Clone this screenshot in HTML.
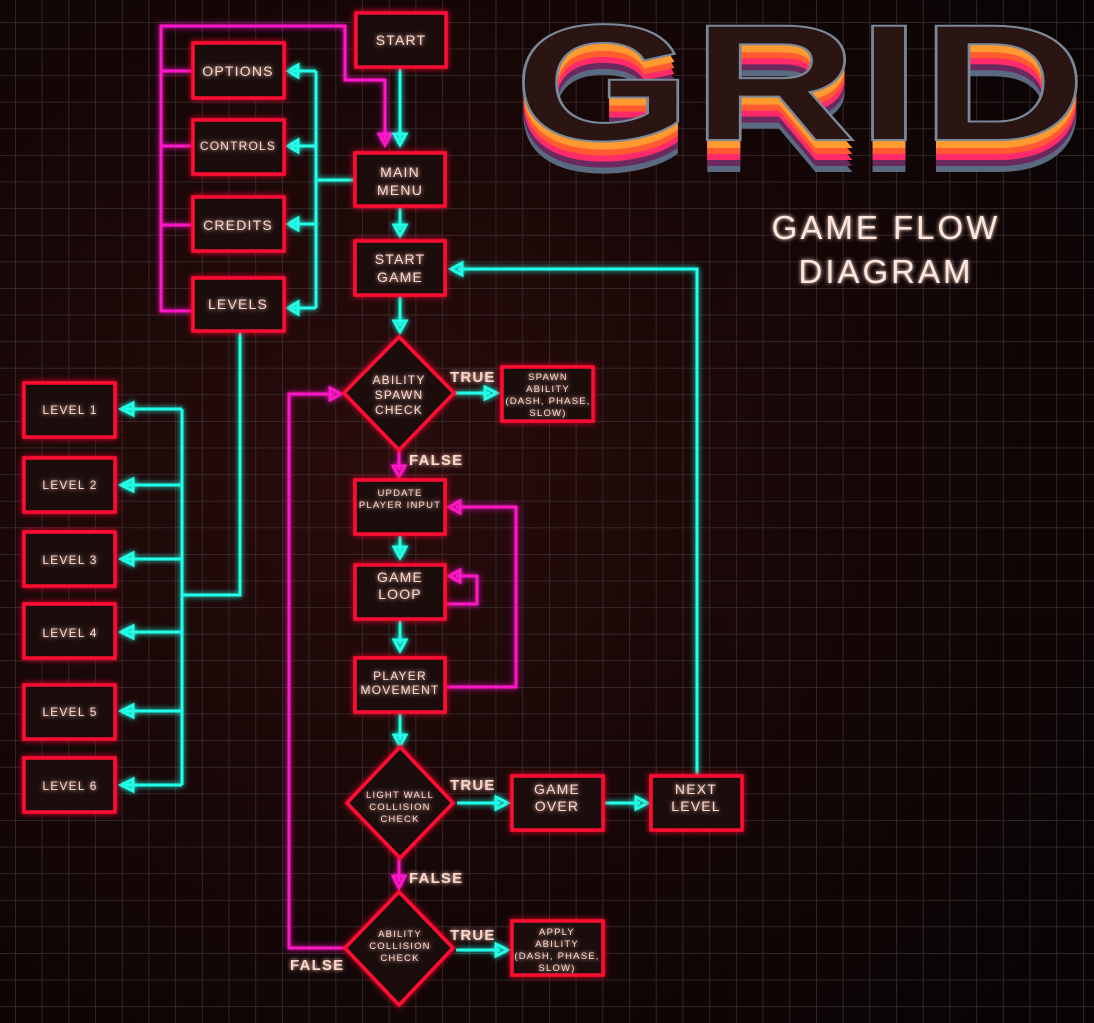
<!DOCTYPE html>
<html><head><meta charset="utf-8"><style>
html,body{margin:0;padding:0;background:#0a0505;}
svg{display:block}
text{font-family:"Liberation Sans",sans-serif;}
</style></head><body>
<svg width="1094" height="1023" viewBox="0 0 1094 1023" xmlns="http://www.w3.org/2000/svg">
<defs>
<pattern id="g" x="15" y="22" width="26.7" height="26.6" patternUnits="userSpaceOnUse">
<path d="M0 0H26.7M0 0V26.6" stroke="#3a3030" stroke-width="1.5" fill="none"/>
</pattern>
<radialGradient id="vg" cx="0.35" cy="0.45" r="0.8">
<stop offset="0" stop-color="#2a0c0c"/><stop offset="0.6" stop-color="#140606"/><stop offset="1" stop-color="#080404"/>
</radialGradient>
<filter id="glow" x="-30%" y="-30%" width="160%" height="160%"><feGaussianBlur stdDeviation="3" result="b"/><feMerge><feMergeNode in="b"/><feMergeNode in="SourceGraphic"/></feMerge></filter>
<filter id="tg" x="-20%" y="-50%" width="140%" height="200%"><feGaussianBlur stdDeviation="2" result="b"/><feMerge><feMergeNode in="b"/><feMergeNode in="SourceGraphic"/></feMerge></filter>
</defs>
<rect width="1094" height="1023" fill="url(#vg)"/>
<rect width="1094" height="1023" fill="url(#g)"/>

<!-- Title -->
<g font-weight="bold" font-size="166" text-anchor="start">
<text x="514" y="172" textLength="572" lengthAdjust="spacingAndGlyphs" fill="#5a6a80">GRID</text>
<text x="514" y="166" textLength="572" lengthAdjust="spacingAndGlyphs" fill="#6a2a60">GRID</text>
<text x="514" y="160" textLength="572" lengthAdjust="spacingAndGlyphs" fill="#ff2a6a">GRID</text>
<text x="514" y="154" textLength="572" lengthAdjust="spacingAndGlyphs" fill="#ff5a30">GRID</text>
<text x="514" y="148" textLength="572" lengthAdjust="spacingAndGlyphs" fill="#ff9a30">GRID</text>
<text x="514" y="140" textLength="572" lengthAdjust="spacingAndGlyphs" fill="#2a1512" stroke="#7a8898" stroke-width="2">GRID</text>
</g>
<g fill="#ffe6dc" font-size="33" text-anchor="middle" letter-spacing="3" filter="url(#tg)">
<text x="886" y="239">GAME FLOW</text>
<text x="886" y="283">DIAGRAM</text>
</g>

<!-- Connectors magenta -->
<g stroke="#ff18c8" stroke-width="3" fill="none" filter="url(#glow)">
<path d="M193 311H161V26H345V80H385V140"/>
<path d="M161 71H193M161 146H193M161 225H193"/>
<polygon points="379,134 391,134 385,145"/>
<path d="M399 450V470"/><polygon points="393,466 405,466 399,477"/>
<path d="M445 604H477V576H456"/><polygon points="460,570 460,582 449,576"/>
<path d="M445 687H516V507H456"/><polygon points="460,501 460,513 449,507"/>
<path d="M399 858V882"/><polygon points="393,876 405,876 399,888"/>
<path d="M345 948H289V394H334"/><polygon points="330,388 330,400 341,394"/>
</g>
<!-- Connectors cyan -->
<g stroke="#20ffe8" stroke-width="3" fill="none" filter="url(#glow)">
<path d="M400 67V140"/><polygon points="394,134 406,134 400,145"/>
<path d="M355 180H316M316 71V308M316 71H292M316 146H292M316 224H292M316 308H292"/>
<polygon points="298,65 298,77 288,71"/><polygon points="298,140 298,152 288,146"/><polygon points="298,218 298,230 288,224"/><polygon points="298,302 298,314 288,308"/>
<path d="M240 331V595H182M182 409V785M182 409H124M182 485H124M182 559H124M182 632H124M182 711H124M182 785H124"/>
<polygon points="133,403 133,415 121,409"/><polygon points="133,479 133,491 121,485"/><polygon points="133,553 133,565 121,559"/><polygon points="133,626 133,638 121,632"/><polygon points="133,705 133,717 121,711"/><polygon points="133,779 133,791 121,785"/>
<path d="M400 206V230"/><polygon points="394,225 406,225 400,236"/>
<path d="M400 295V326"/><polygon points="394,321 406,321 400,332"/>
<path d="M454 393H490"/><polygon points="485,387 485,399 497,393"/>
<path d="M400 534V553"/><polygon points="394,547 406,547 400,558"/>
<path d="M400 619V644"/><polygon points="394,640 406,640 400,651"/>
<path d="M400 712V740"/><polygon points="394,735 406,735 400,746"/>
<path d="M457 803H500"/><polygon points="496,797 496,809 508,803"/>
<path d="M605 803H640"/><polygon points="636,797 636,809 648,803"/>
<path d="M697 776V269H458"/><polygon points="462,263 462,275 451,269"/>
<path d="M456 950H500"/><polygon points="496,944 496,956 508,950"/>
</g>

<!-- Nodes -->
<g fill="#1e0a0a" stroke="#ff1030" stroke-width="3.5" filter="url(#glow)">
<rect x="356" y="13" width="90" height="54"/>
<rect x="193" y="43" width="91" height="55"/>
<rect x="193" y="120" width="91" height="54"/>
<rect x="193" y="197" width="91" height="54"/>
<rect x="193" y="278" width="91" height="53"/>
<rect x="355" y="153" width="90" height="53"/>
<rect x="355" y="241" width="90" height="54"/>
<rect x="502" y="367" width="91" height="54"/>
<rect x="355" y="480" width="90" height="54"/>
<rect x="355" y="565" width="90" height="54"/>
<rect x="355" y="658" width="90" height="54"/>
<rect x="512" y="776" width="91" height="54"/>
<rect x="651" y="776" width="91" height="54"/>
<rect x="512" y="921" width="91" height="54"/>
<rect x="24" y="383" width="91" height="54"/>
<rect x="24" y="458" width="91" height="54"/>
<rect x="24" y="532" width="91" height="54"/>
<rect x="24" y="604" width="91" height="54"/>
<rect x="24" y="685" width="91" height="54"/>
<rect x="24" y="758" width="91" height="54"/>
<polygon points="399,337 454,393 399,450 344,393"/>
<polygon points="400,747 453,803 400,858 347,803"/>
<polygon points="399,892 453,948 399,1005 345,948"/>
</g>

<!-- Labels -->
<g fill="#ffd6c8" text-anchor="middle" letter-spacing="1.2" filter="url(#tg)">
<g font-size="14">
<text x="401" y="45">START</text>
<text x="238" y="76">OPTIONS</text>
<text x="238" y="230">CREDITS</text>
<text x="238" y="309">LEVELS</text>
<text x="400" y="177">MAIN</text><text x="400" y="195">MENU</text>
<text x="400" y="264">START</text><text x="400" y="282">GAME</text>
<text x="400" y="582">GAME</text><text x="400" y="599">LOOP</text>
<text x="557" y="794">GAME</text><text x="557" y="811">OVER</text>
<text x="696" y="794">NEXT</text><text x="696" y="811">LEVEL</text>
</g>
<g font-size="12">
<text x="238" y="150">CONTROLS</text>
<text x="400" y="680">PLAYER</text><text x="400" y="694">MOVEMENT</text>
<text x="399" y="384">ABILITY</text><text x="399" y="399">SPAWN</text><text x="399" y="414">CHECK</text>
<text x="70" y="414">LEVEL 1</text><text x="70" y="489">LEVEL 2</text><text x="70" y="564">LEVEL 3</text>
<text x="70" y="637">LEVEL 4</text><text x="70" y="716">LEVEL 5</text><text x="70" y="790">LEVEL 6</text>
</g>
<g font-size="9.5">
<text x="400" y="496">UPDATE</text><text x="400" y="508">PLAYER INPUT</text>
<text x="548" y="380">SPAWN</text><text x="548" y="392">ABILITY</text><text x="548" y="404">(DASH, PHASE,</text><text x="548" y="416">SLOW)</text>
<text x="400" y="798">LIGHT WALL</text><text x="400" y="810">COLLISION</text><text x="400" y="822">CHECK</text>
<text x="400" y="937">ABILITY</text><text x="400" y="949">COLLISION</text><text x="400" y="961">CHECK</text>
<text x="557" y="935">APPLY</text><text x="557" y="947">ABILITY</text><text x="557" y="959">(DASH, PHASE,</text><text x="557" y="971">SLOW)</text>
</g>
<g font-size="15" font-weight="bold" text-anchor="start">
<text x="450" y="382">TRUE</text>
<text x="409" y="465">FALSE</text>
<text x="450" y="790">TRUE</text>
<text x="409" y="883">FALSE</text>
<text x="450" y="940">TRUE</text>
<text x="290" y="970">FALSE</text>
</g>
</g>
</svg>
</body></html>
